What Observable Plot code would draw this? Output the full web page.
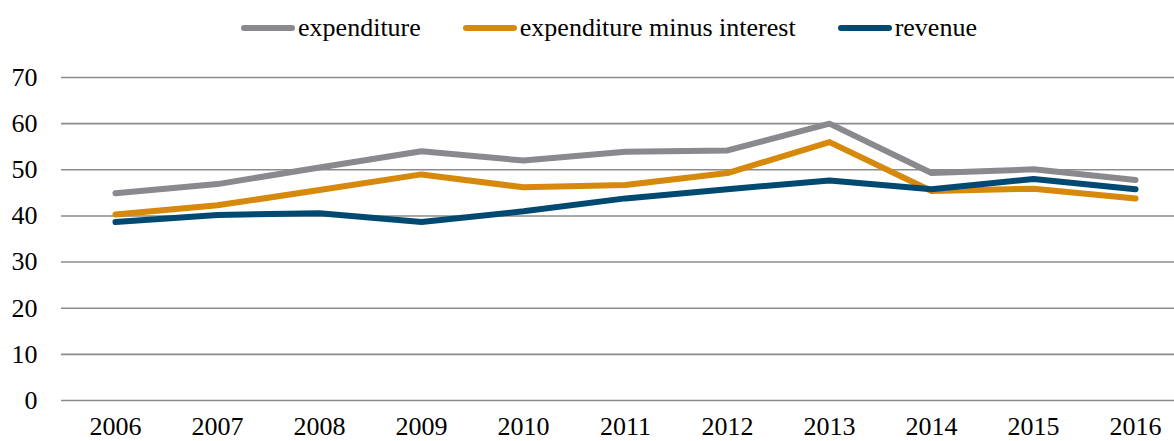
<!DOCTYPE html>
<html><head><meta charset="utf-8">
<script src="https://cdn.jsdelivr.net/npm/d3@7"></script>
<script src="https://cdn.jsdelivr.net/npm/@observablehq/plot@0.6"></script>
<style>
html,body{margin:0;padding:0;background:#fff;overflow:hidden;}
body{width:1174px;height:441px;font-family:"Liberation Serif","DejaVu Serif",serif;}
#legend{height:55px;display:flex;justify-content:center;align-items:center;padding-left:44px;box-sizing:border-box;font-size:26px;color:#000;}
.item{display:flex;align-items:center;margin:0 21px;}
.sw{width:54px;height:6px;border-radius:3px;margin-right:3px;}
svg text{font-family:"Liberation Serif","DejaVu Serif",serif;}
</style></head>
<body>
<div id="legend"></div>
<div id="chart"></div>
<script>
const years = ["2006","2007","2008","2009","2010","2011","2012","2013","2014","2015","2016"];
const seriesNames = ["expenditure","expenditure minus interest","revenue"];
const expenditure = [44.9,46.9,50.5,54.0,52.0,53.9,54.2,60.0,49.3,50.1,47.8];
const expMinusInterest = [40.3,42.3,45.6,49.0,46.2,46.7,49.3,56.0,45.4,45.9,43.8];
const revenue = [38.7,40.2,40.6,38.7,41.0,43.8,45.8,47.7,45.8,48.0,45.8];
const yTicks = [0,10,20,30,40,50,60,70];
const colors = ["#8a898e","#d6890a","#004a72"];

const seriesValues = [expenditure, expMinusInterest, revenue];
const data = [];
seriesNames.forEach((s, si) => years.forEach((y, i) => data.push({series: s, year: y, value: seriesValues[si][i]})));

const legend = document.getElementById("legend");
seriesNames.forEach((s, i) => {
  const it = document.createElement("div"); it.className = "item";
  const sw = document.createElement("div"); sw.className = "sw"; sw.style.background = colors[i];
  const t = document.createElement("span"); t.textContent = s;
  it.appendChild(sw); it.appendChild(t); legend.appendChild(it);
});

const chart = Plot.plot({
  width: 1174,
  height: 386,
  marginLeft: 61,
  marginRight: -14,
  marginTop: 22,
  marginBottom: 41,
  style: {fontFamily: "Liberation Serif, DejaVu Serif, serif", fontSize: "26px", color: "#000", overflow: "hidden"},
  x: {type: "point", domain: years, padding: 0.5, label: null},
  y: {domain: [0, 70], ticks: yTicks, label: null},
  color: {domain: seriesNames, range: colors},
  marks: [
    Plot.ruleY(yTicks, {stroke: "#8c8c8c", strokeWidth: 1.6}),
    Plot.axisY({ticks: yTicks, tickSize: 0, tickPadding: 24, fontSize: 26, label: null}),
    Plot.axisX({tickSize: 0, tickPadding: 16, fontSize: 26, label: null}),
    Plot.line(data, {x: "year", y: "value", z: "series", stroke: "series", strokeWidth: 6, strokeLinejoin: "round", strokeLinecap: "round"})
  ]
});
document.getElementById("chart").appendChild(chart);
</script>
</body></html>
